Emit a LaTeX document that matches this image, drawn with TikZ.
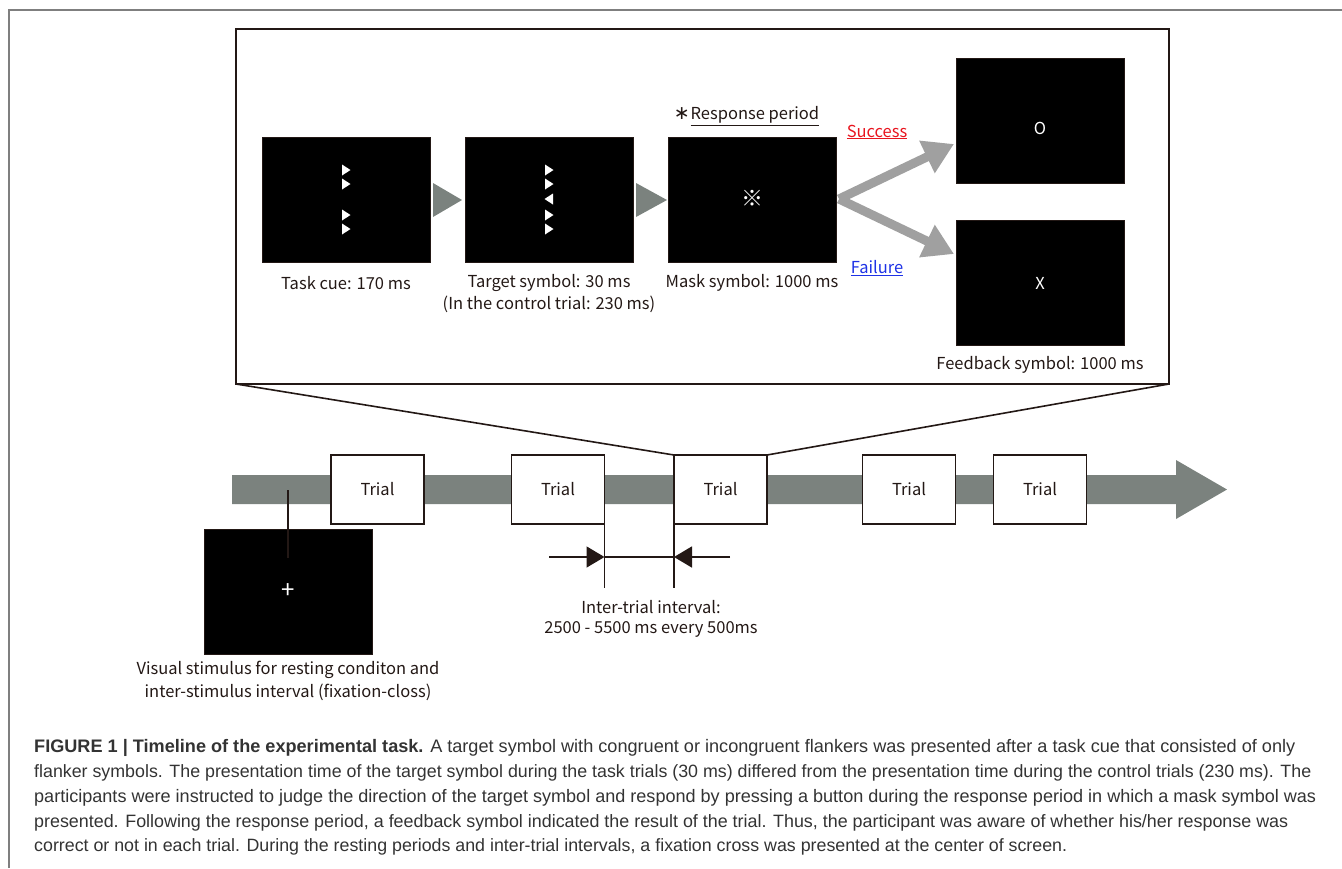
\documentclass[tikz,border=0pt]{standalone}
\usepackage{fontspec}
\usepackage{graphicx}
\usetikzlibrary{arrows.meta}
\newfontfamily\labf{Noto Sans CJK JP}
\newfontfamily\capf{Liberation Sans}
\newfontfamily\symf{DejaVu Sans}
\definecolor{band}{HTML}{7B827E}
\definecolor{lgray}{HTML}{A0A0A0}
\definecolor{ink}{HTML}{231815}
\definecolor{capcol}{HTML}{333333}
\definecolor{succ}{HTML}{E8141E}
\definecolor{fail}{HTML}{1E32E6}
\definecolor{framecol}{HTML}{7F7F7F}
\newcommand\rtri[2]{\fill[white] (#1-4,#2-5.5) -- (#1+4.5,#2) -- (#1-4,#2+5.5) -- cycle;}
\newcommand\ltri[2]{\fill[white] (#1+4,#2-5.5) -- (#1-4.5,#2) -- (#1+4,#2+5.5) -- cycle;}
\tikzset{
  screen/.style={draw=ink, line width=1pt, fill=black, minimum width=168pt, minimum height=125pt, inner sep=0pt, outer sep=0pt},
  trialbox/.style={draw=ink, line width=1.8pt, fill=white, minimum width=93pt, minimum height=69pt, inner sep=0pt, outer sep=0pt, font=\labf\fontsize{16.5}{20}\selectfont, text=ink},
  lab/.style={font=\labf\fontsize{16.5}{20}\selectfont, text=ink, inner sep=0pt},
  wlab/.style={font=\labf\fontsize{16.5}{20}\selectfont, text=white, inner sep=0pt},
  capn/.style={font=\capf\fontsize{15}{18}\selectfont, text=capcol, inner sep=0pt, anchor=base west},
  inkline/.style={draw=ink, line width=1.6pt},
  grayarrow/.style={draw=lgray, line width=9pt, -{Triangle[length=30pt,width=34pt]}},
  blackarrow/.style={draw=ink, line width=1.6pt, -{Triangle[length=18pt,width=21pt]}}
}
\begin{document}
\begin{tikzpicture}[x=1pt,y=-1pt]
\useasboundingbox (0,0) rectangle (1342,868);
% frame
\draw[framecol, line width=1.5pt] (9,868) -- (9,10) -- (1342,10);

% zoom box
\node[draw=ink, line width=2pt, minimum width=933pt, minimum height=355pt, inner sep=0pt, outer sep=0pt] (zoom) at (702.5,206.5) {};

% screens
\node[screen] (cue) at (346.5,199.5) {};
\node[screen] (tar) at (549.5,199.5) {};
\node[screen] (mask) at (752.5,199.5) {};
\node[screen] (fbo) at (1040,121) {};
\node[screen] (fbx) at (1040,282.5) {};

% flanker triangles
\rtri{346}{170}\rtri{346}{184}\rtri{346}{215}\rtri{346}{229}
\rtri{549}{170}\rtri{549}{184}\ltri{549}{199}\rtri{549}{215}\rtri{549}{229}

% symbols
\node[wlab, font=\labf\fontsize{22}{24}\selectfont] (msym) at (752.5,198) {※};
\node[wlab] (osym) at (1040,128) {O};
\node[wlab] (xsym) at (1040,283) {X};

% gray step triangles
\fill[band] (433,183) -- (462,200) -- (433,217) -- cycle;
\fill[band] (636,183) -- (667,200) -- (636,217) -- cycle;

% success / failure arrows
\coordinate (fork) at (839,199);
\coordinate (send) at (954,144);
\coordinate (fend) at (954,254);
\draw[grayarrow] (fork) -- (send);
\draw[grayarrow] (fork) -- (fend);

% top labels
\node[lab] (lcue) at (346,283) {Task cue: 170 ms};
\node[lab] (ltar) at (549,283) {Target symbol: 30 ms};
\node[lab] (lctl) at (549,304) {(In the control trial: 230 ms)};
\node[lab] (lmask) at (752,283) {Mask symbol: 1000 ms};
\node[lab] (lresp) at (746.5,116) {{\symf\fontsize{19}{20}\selectfont ∗}\hspace{1pt}\underline{Response period}};
\node[lab, text=succ] (lsucc) at (877,132) {\underline{Success}};
\node[lab, text=fail] (lfail) at (877,268) {\underline{Failure}};
\node[lab] (lfb) at (1040,365) {Feedback symbol: 1000 ms};

% timeline band
\fill[band] (232,475) -- (1176,475) -- (1176,460) -- (1227,489.5) -- (1176,519) -- (1176,504) -- (232,504) -- cycle;

% fixation pin and box
\coordinate (pina) at (288,490);
\coordinate (pinb) at (288,558);
\node[screen] (fix) at (288,591.5) {};
\draw[inkline] (pina) -- (pinb);
\node[wlab, font=\labf\fontsize{24}{26}\selectfont] (plus) at (288,591) {+};
\node[lab] (lfix1) at (288,670) {Visual stimulus for resting conditon and};
\node[lab] (lfix2) at (288,692) {inter-stimulus interval (fixation-closs)};

% trials
\node[trialbox] (t1) at (377.5,489.5) {Trial};
\node[trialbox] (t2) at (558,489.5) {Trial};
\node[trialbox] (t3) at (720.5,489.5) {Trial};
\node[trialbox] (t4) at (909,489.5) {Trial};
\node[trialbox] (t5) at (1040,489.5) {Trial};

% zoom lines
\draw[inkline] (zoom.south west) -- (t3.north west);
\draw[inkline] (zoom.south east) -- (t3.north east);

% inter-trial interval
\draw[inkline] (t2.south east) -- ++(0,64);
\draw[inkline] (t3.south west) -- ++(0,64);
\coordinate (il) at (549,557);
\coordinate (ir) at (730,557);
\coordinate (ia) at (t2.south east |- il);
\coordinate (ib) at (t3.south west |- il);
\draw[inkline] (ia) -- (ib);
\draw[blackarrow] (il) -- (ia);
\draw[blackarrow] (ir) -- (ib);
\node[lab] (liti1) at (651,607) {Inter-trial interval:};
\node[lab] (liti2) at (651,629) {2500 - 5500 ms every 500ms};

% caption
\node[capn] (c1) at (34,752) {\resizebox{1261pt}{!}{\textbf{FIGURE 1 | Timeline of the experimental task.} A target symbol with congruent or incongruent flankers was presented after a task cue that consisted of only}};
\node[capn] (c2) at (34,777) {\resizebox{1277pt}{!}{flanker symbols. The presentation time of the target symbol during the task trials (30 ms) differed from the presentation time during the control trials (230 ms). The}};
\node[capn] (c3) at (34,802) {\resizebox{1282pt}{!}{participants were instructed to judge the direction of the target symbol and respond by pressing a button during the response period in which a mask symbol was}};
\node[capn] (c4) at (34,827) {\resizebox{1254pt}{!}{presented. Following the response period, a feedback symbol indicated the result of the trial. Thus, the participant was aware of whether his/her response was}};
\node[capn] (c5) at (34,851) {\resizebox{1033pt}{!}{correct or not in each trial. During the resting periods and inter-trial intervals, a fixation cross was presented at the center of screen.}};
\end{tikzpicture}
\end{document}
